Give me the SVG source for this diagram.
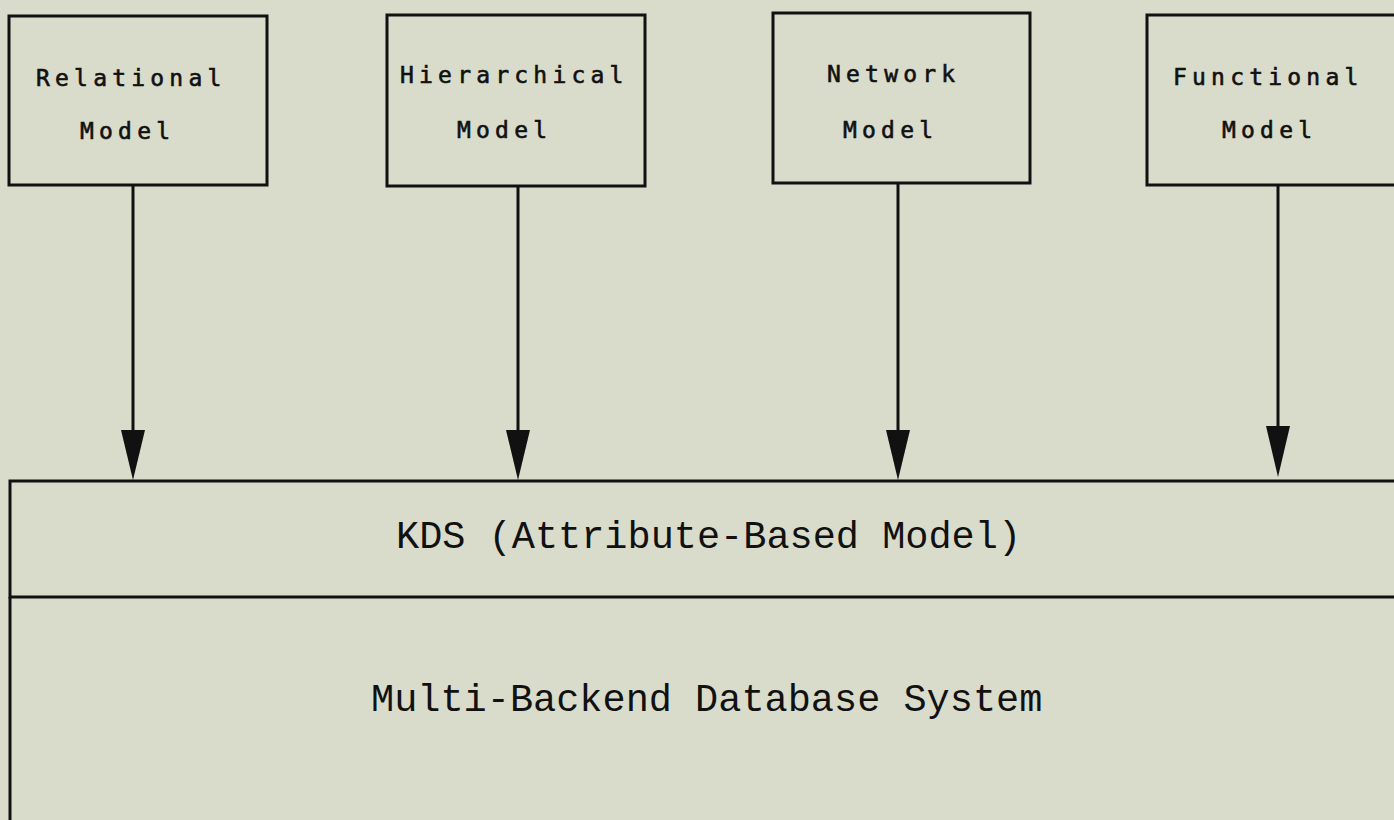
<svg xmlns="http://www.w3.org/2000/svg" width="1394" height="820" viewBox="0 0 1394 820">
  <style>
    .bg { fill: #d9dccb; }
    .box { fill: none; stroke: #111; stroke-width: 3; }
    .lbl { font-family: "DejaVu Sans Mono", monospace; font-size: 23px; letter-spacing: 5.2px; fill: #111; stroke: #111; stroke-width: 0.6; }
    .big { font-family: "Liberation Mono", monospace; font-size: 38.6px; fill: #111; }
    .wire { stroke: #111; stroke-width: 3; fill: none; }
    .head { fill: #111; }
  </style>

  <rect class="bg" x="0" y="0" width="1394" height="820"/>

  <!-- source models -->
  <g id="relational">
    <rect class="box" x="9" y="16" width="258" height="169"/>
    <text class="lbl" x="36" y="86">Relational</text>
    <text class="lbl" x="80" y="139">Model</text>
  </g>
  <g id="hierarchical">
    <rect class="box" x="387" y="15" width="258" height="171"/>
    <text class="lbl" x="400" y="83">Hierarchical</text>
    <text class="lbl" x="457" y="138">Model</text>
  </g>
  <g id="network">
    <rect class="box" x="773" y="13" width="257" height="170"/>
    <text class="lbl" x="827" y="82">Network</text>
    <text class="lbl" x="843" y="138">Model</text>
  </g>
  <g id="functional">
    <rect class="box" x="1147" y="15" width="260" height="170"/>
    <text class="lbl" x="1173" y="85">Functional</text>
    <text class="lbl" x="1222" y="138">Model</text>
  </g>

  <!-- kernel layers -->
  <g id="kds">
    <path class="box" d="M1400,481 H10 V597 H1400"/>
    <text class="big" x="396" y="548">KDS (Attribute-Based Model)</text>
  </g>
  <g id="mbds">
    <path class="box" d="M10,597 V830"/>
    <text class="big" x="371" y="711">Multi-Backend Database System</text>
  </g>

  <!-- connectors -->
  <g id="connectors">
    <line class="wire" x1="133" y1="185" x2="133" y2="431"/>
    <line class="wire" x1="518" y1="186" x2="518" y2="431"/>
    <line class="wire" x1="898" y1="183" x2="898" y2="431"/>
    <line class="wire" x1="1278" y1="185" x2="1278" y2="428"/>
    <path class="head" d="M121,430 L145,430 L133,480 Z"/>
    <path class="head" d="M506,430 L530,430 L518,480 Z"/>
    <path class="head" d="M886,430 L910,430 L898,480 Z"/>
    <path class="head" d="M1266,426 L1290,426 L1278,477 Z"/>
  </g>
</svg>
